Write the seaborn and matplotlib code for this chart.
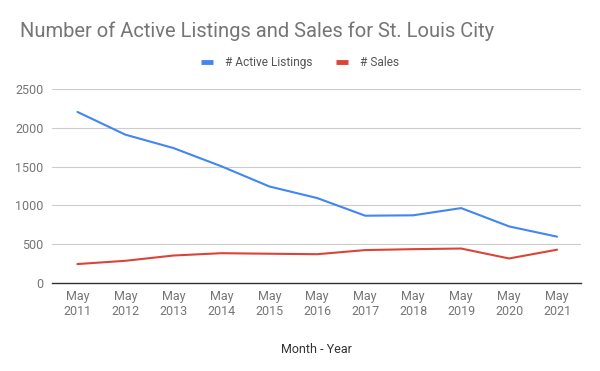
#!/usr/bin/env python3
"""Active listings vs sales for St. Louis City, May of each year."""

import matplotlib
matplotlib.use("Agg")
import matplotlib.pyplot as plt
import pandas as pd
import seaborn as sns

YEARS = ["2011", "2012", "2013", "2014", "2015", "2016",
         "2017", "2018", "2019", "2020", "2021"]
TICK_LABELS = [f"May\n{y}" for y in YEARS]
ACTIVE_LISTINGS = [2205, 1912, 1740, 1505, 1245, 1095, 868, 873, 966, 730, 598]
SALES = [245, 287, 355, 385, 378, 372, 425, 437, 445, 317, 430]

SERIES = ["# Active Listings", "# Sales"]
COLORS = ["#4285F4", "#DB4437"]


def main() -> None:
    df = pd.DataFrame({
        "idx": list(range(len(YEARS))) * 2,
        "value": ACTIVE_LISTINGS + SALES,
        "series": [SERIES[0]] * len(YEARS) + [SERIES[1]] * len(YEARS),
    })

    sns.set_theme(style="white")
    plt.rcParams["font.family"] = ["Roboto", "DejaVu Sans"]

    fig = plt.figure(figsize=(6, 3.71), dpi=100)
    ax = fig.add_axes([0.0867, 0.237, 0.8817, 0.523])
    sns.lineplot(data=df, x="idx", y="value", hue="series",
                 palette=dict(zip(SERIES, COLORS)), linewidth=1.5,
                 ax=ax, legend=False)

    ax.set_xlim(-0.53, 10.5)
    ax.set_ylim(0, 2500)
    ax.set_yticks([0, 500, 1000, 1500, 2000, 2500])
    ax.set_xticks(range(len(YEARS)))
    ax.set_xticklabels(TICK_LABELS)
    ax.tick_params(axis="both", length=0, labelsize=9, colors="#757575", pad=6)
    ax.tick_params(axis="x", pad=5)
    ax.grid(axis="y", color="#cccccc", linewidth=0.8)
    ax.set_axisbelow(True)
    for side in ["top", "right", "left"]:
        ax.spines[side].set_visible(False)
    ax.spines["bottom"].set_color("#333333")
    ax.spines["bottom"].set_linewidth(1.0)

    ax.set_xlabel("Month - Year", fontsize=9, color="#333333", labelpad=18)
    ax.set_ylabel("")

    fig.text(0.033, 0.915, "Number of Active Listings and Sales for St. Louis City",
             fontsize=14.5, color="#757575", ha="left", va="center")

    handles = [plt.Line2D([0], [0], color=c, linewidth=3.5,
                          solid_capstyle="butt") for c in COLORS]
    fig.legend(handles, SERIES, loc="center", bbox_to_anchor=(0.5, 0.832),
               ncol=2, frameon=False, fontsize=8.6, handlelength=1.0,
               columnspacing=2.0, handletextpad=1.0, labelcolor="#555555")

    fig.savefig("out.png", dpi=100)
    plt.close(fig)


if __name__ == "__main__":
    main()
